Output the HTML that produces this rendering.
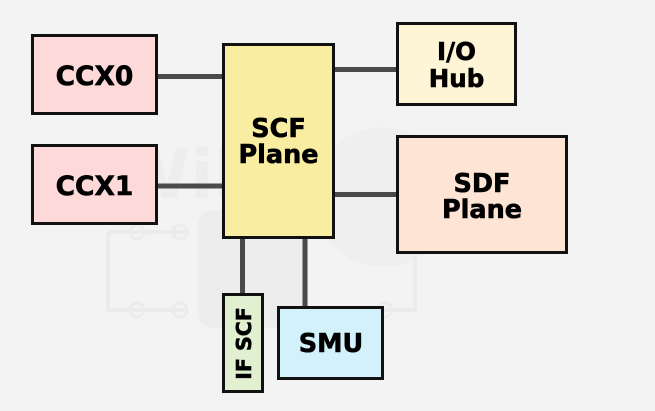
<!DOCTYPE html>
<html>
<head>
<meta charset="utf-8">
<style>
  html,body{margin:0;padding:0;background:#f3f3f3;}
  svg{display:block;}
  text{font-family:"DejaVu Sans","Liberation Sans",sans-serif;font-weight:bold;fill:#000;stroke:#000;stroke-width:0.6;}
</style>
</head>
<body>
<svg width="655" height="411" viewBox="0 0 655 411" xmlns="http://www.w3.org/2000/svg">
  <rect x="0" y="0" width="655" height="411" fill="#f3f3f3"/>
  <!-- faint watermark -->
  <g opacity="0.3">
    <rect x="198" y="210" width="110" height="118" rx="14" fill="#e2e2e2"/>
    <circle cx="383" cy="197" r="70" fill="#e8e8e8"/>
    <g fill="none" stroke="#dcdcdc" stroke-width="4">
      <path d="M108 232 H185 M108 232 V310 H185"/>
      <path d="M415 232 V310 H330"/>
    </g>
    <g fill="none" stroke="#dcdcdc" stroke-width="3">
      <circle cx="137" cy="232" r="7"/>
      <circle cx="180" cy="232" r="7"/>
      <circle cx="137" cy="310" r="7"/>
      <circle cx="180" cy="310" r="7"/>
      <circle cx="385" cy="310" r="7"/>
    </g>
    <text x="115" y="198" font-size="68" style="fill:#e2e2e2;stroke:none">Wiki</text>
  </g>

  <!-- connectors -->
  <g stroke="#4a4a4a" stroke-width="5" fill="none">
    <line x1="157" y1="76.5" x2="223" y2="76.5"/>
    <line x1="157" y1="186" x2="223" y2="186"/>
    <line x1="334" y1="69.5" x2="397" y2="69.5"/>
    <line x1="334" y1="194.5" x2="397" y2="194.5"/>
    <line x1="242.5" y1="238" x2="242.5" y2="294"/>
    <line x1="305" y1="238" x2="305" y2="307"/>
  </g>

  <!-- boxes -->
  <g stroke="#111" stroke-width="3">
    <rect x="32.5" y="35.5" width="124" height="78" fill="#fdd9d9"/>
    <rect x="32.5" y="145.5" width="124" height="78" fill="#fdd9d9"/>
    <rect x="223.5" y="44.5" width="110" height="193" fill="#f9eda1"/>
    <rect x="397.5" y="23.5" width="118" height="81" fill="#fdf5d6"/>
    <rect x="397.5" y="136.5" width="169" height="116" fill="#fde4d5"/>
    <rect x="223.5" y="294.5" width="39" height="97" fill="#e1f0d1"/>
    <rect x="278.5" y="307.5" width="104" height="71" fill="#d3f1fa"/>
  </g>

  <!-- labels -->
  <g text-anchor="middle">
    <text x="94.5" y="85" font-size="26.5">CCX0</text>
    <text x="94.5" y="195" font-size="26.5">CCX1</text>
    <text x="278.5" y="137" font-size="25.5">SCF</text>
    <text x="278.5" y="163" font-size="25.5">Plane</text>
    <text x="456.5" y="60" font-size="24.5">I/O</text>
    <text x="456.5" y="87" font-size="24.5">Hub</text>
    <text x="482" y="192" font-size="25.5">SDF</text>
    <text x="482" y="218" font-size="25.5">Plane</text>
    <text x="331" y="352" font-size="25.5">SMU</text>
    <text x="0" y="0" font-size="20.5" transform="translate(251,343.5) rotate(-90)">IF SCF</text>
  </g>
</svg>
</body>
</html>
